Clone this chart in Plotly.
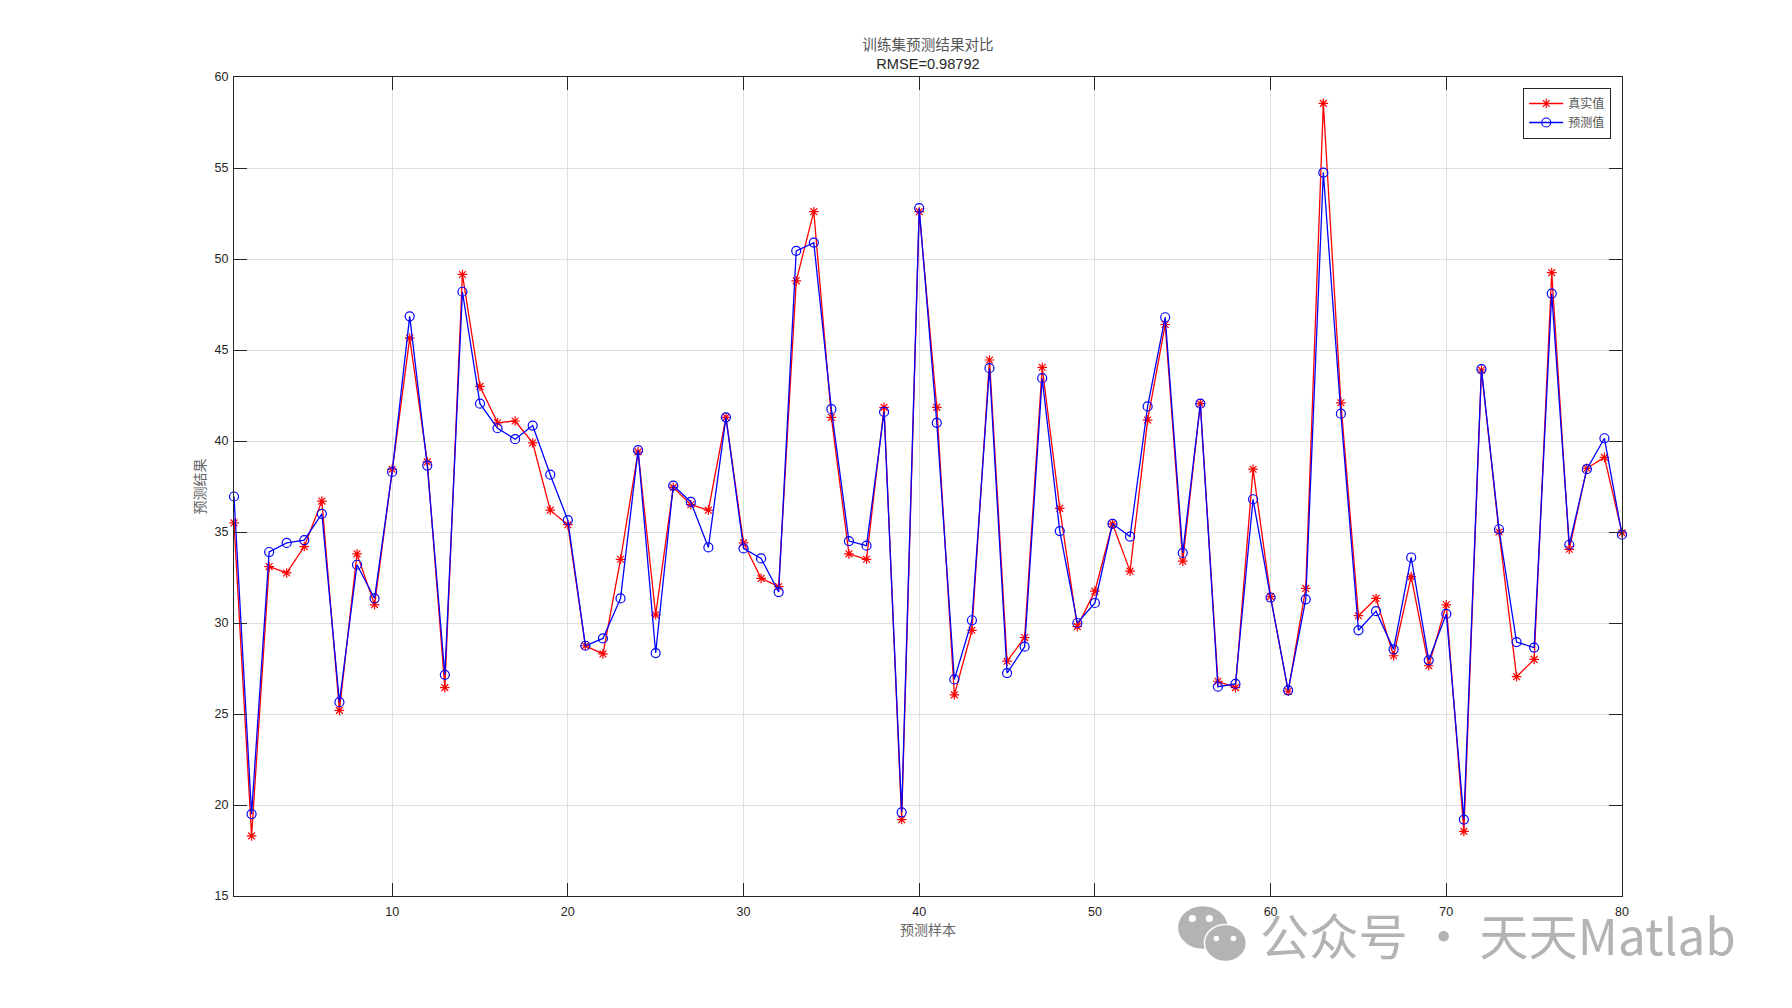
import plotly.graph_objects as go

samples = list(range(1, 81))
true_values = [
    35.5, 18.3, 33.1, 32.75, 34.2, 36.7, 25.2, 33.8, 31.0, 38.45,
    45.65, 38.85, 26.45, 49.15, 43.0, 41.0, 41.1, 39.9, 36.2, 35.4,
    28.75, 28.3, 33.5, 39.4, 30.45, 37.45, 36.5, 36.2, 41.3, 34.4,
    32.45, 32.0, 48.8, 52.6, 41.3, 33.8, 33.5, 41.85, 19.2, 52.6,
    41.85, 26.05, 29.6, 44.45, 27.9, 29.2, 44.05, 36.3, 29.8, 31.75,
    35.45, 32.85, 41.15, 46.4, 33.4, 42.05, 26.8, 26.45, 38.45, 31.45,
    26.25, 31.9, 58.55, 42.1, 30.4, 31.35, 28.2, 32.55, 27.65, 31.0,
    18.55, 43.9, 35.0, 27.05, 28.0, 49.25, 34.05, 38.5, 39.1, 34.95,
]
pred_values = [
    36.95, 19.5, 33.9, 34.4, 34.55, 36.0, 25.65, 33.2, 31.35, 38.3,
    46.85, 38.65, 27.15, 48.2, 42.05, 40.7, 40.1, 40.85, 38.15, 35.65,
    28.75, 29.15, 31.35, 39.5, 28.35, 37.55, 36.65, 34.15, 41.3, 34.1,
    33.55, 31.7, 50.45, 50.9, 41.75, 34.5, 34.25, 41.6, 19.6, 52.8,
    41.0, 26.9, 30.15, 44.0, 27.25, 28.7, 43.45, 35.05, 30.0, 31.1,
    35.45, 34.75, 41.9, 46.8, 33.85, 42.05, 26.5, 26.65, 36.8, 31.4,
    26.3, 31.3, 54.75, 41.5, 29.6, 30.65, 28.55, 33.6, 27.95, 30.5,
    19.2, 43.95, 35.15, 28.95, 28.65, 48.1, 34.3, 38.45, 40.15, 34.85,
]
x_ticks = [10, 20, 30, 40, 50, 60, 70, 80]
y_ticks = [15, 20, 25, 30, 35, 40, 45, 50, 55, 60]
series_names = ["真实值", "预测值"]
title_lines = ["训练集预测结果对比", "RMSE=0.98792"]
x_label = "预测样本"
y_label = "预测结果"
watermark = "公众号 · 天天Matlab"

W, H = 1792, 1008
L, R, T, B = 233.6, 1621.6, 76.5, 896.5
CJK = "Noto Sans CJK SC"
SANS = "Liberation Sans"

fig = go.Figure()
fig.add_trace(go.Scatter(
    x=samples, y=true_values, name=series_names[0], mode="lines+markers", cliponaxis=False,
    line=dict(color="#ff0000", width=1.3),
    marker=dict(symbol="asterisk-open", size=8, color="#ff0000", line=dict(color="#ff0000", width=1.2)),
))
fig.add_trace(go.Scatter(
    x=samples, y=pred_values, name=series_names[1], mode="lines+markers", cliponaxis=False,
    line=dict(color="#0000ff", width=1.3),
    marker=dict(symbol="circle-open", size=9, color="#0000ff", line=dict(color="#0000ff", width=1.2)),
))

axis_common = dict(
    showline=True, linecolor="#262626", linewidth=1.2, mirror="allticks",
    ticks="inside", ticklen=13, tickwidth=1.1, tickcolor="#262626",
    showgrid=True, gridcolor="#dfdfdf", gridwidth=1, zeroline=False,
    tickfont=dict(family=SANS, size=12.5, color="#262626"),
)


def px(v):
    return (v - L) / (R - L)


def py(v):
    return (B - v) / (B - T)


# watermark icon (decoration in paper space)
shapes = []
for cx0, cy0, cx1, cy1, col in [
    (1177, 906, 1228, 950, "#b3b3b3"),
    (1204, 925, 1246, 962, "#b3b3b3"),
]:
    shapes.append(dict(type="circle", xref="paper", yref="paper", x0=px(cx0), x1=px(cx1),
                       y0=py(cy1), y1=py(cy0), fillcolor=col, line=dict(color="#ffffff", width=1.5)))
for cx, cy, r in [(1192, 919, 3.6), (1209, 919, 3.6), (1216, 939, 2.8), (1233, 939, 2.8)]:
    shapes.append(dict(type="circle", xref="paper", yref="paper", x0=px(cx - r), x1=px(cx + r),
                       y0=py(cy + r), y1=py(cy - r), fillcolor="#ffffff", line=dict(width=0)))

fig.update_layout(
    width=W, height=H, paper_bgcolor="white", plot_bgcolor="white",
    margin=dict(l=L, r=W - R, t=T, b=H - B, pad=0),
    title=dict(
        text=f'<span style="color:#555555;font-family:{CJK}">{title_lines[0]}</span><br>{title_lines[1]}',
        x=0.5, xref="paper", xanchor="center", y=1.0, yref="paper", yanchor="bottom",
        pad=dict(b=27), font=dict(family=SANS, size=14.6, color="#262626"),
    ),
    xaxis=dict(axis_common, range=[1, 80], tickvals=x_ticks, ticklabelstandoff=4,
               title=dict(text=x_label, standoff=7, font=dict(family=CJK, size=14, color="#666666"))),
    yaxis=dict(axis_common, range=[15, 60], tickvals=y_ticks, ticklabelstandoff=2,
               title=dict(text=y_label, standoff=5, font=dict(family=CJK, size=14, color="#666666"))),
    legend=dict(x=px(1610.6), xanchor="right", y=py(87.3), yanchor="top",
                bgcolor="white", bordercolor="#262626", borderwidth=1.2,
                font=dict(family=CJK, size=12, color="#555555"),
                itemwidth=34, tracegroupgap=0),
    shapes=shapes,
    annotations=[dict(text=watermark, xref="paper", yref="paper", x=px(1258), y=py(934),
                      xanchor="left", yanchor="middle", showarrow=False,
                      font=dict(family=CJK, size=49.3, color="#b3b3b3"))],
    showlegend=True,
)

fig.write_html("out.html", config=dict(displayModeBar=False),
               post_script="document.body.style.margin='0';")
